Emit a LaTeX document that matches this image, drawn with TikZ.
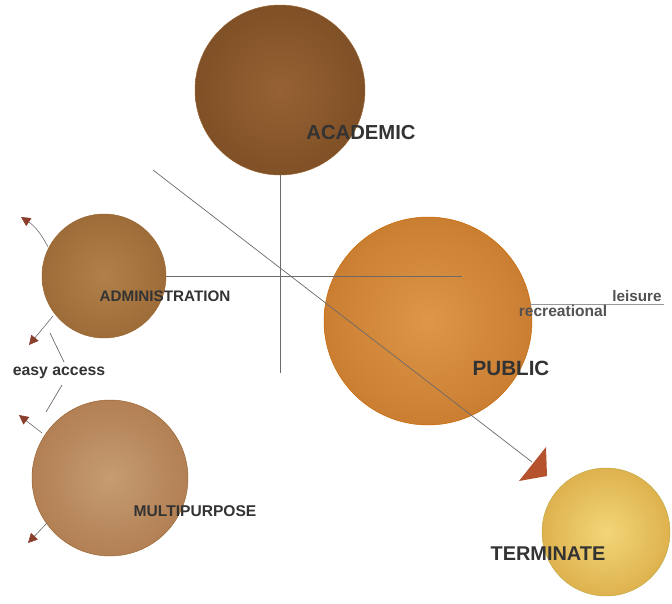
\documentclass[tikz,border=0pt]{standalone}
\usepackage{fontspec}
\setmainfont{Liberation Sans}
\usetikzlibrary{arrows.meta}
\definecolor{txt}{HTML}{333333}
\definecolor{lin}{HTML}{6A6A6A}
\definecolor{tip}{HTML}{8A3F2C}
\definecolor{bigtip}{HTML}{B5532F}
\tikzset{
  ball/.style={circle, inner sep=0pt, draw=#1!80!black, line width=0.4pt},
  lbl/.style={font=\bfseries, text=txt, inner sep=0pt},
  conn/.style={draw=lin, line width=0.6pt},
  small/.style={draw=lin, line width=0.5pt, -{Triangle[length=8pt,width=8pt,color=tip]}},
}
\begin{document}
\begin{tikzpicture}[x=0.03cm, y=-0.03cm]
\useasboundingbox (0,0) rectangle (672,603);
% circles
\node[ball=brown, minimum size=170*0.03cm, inner color={rgb,255:red,150;green,98;blue,52}, outer color={rgb,255:red,128;green,80;blue,38}] (acad) at (280,90) {};
\node[ball=brown, minimum size=124*0.03cm, inner color={rgb,255:red,176;green,128;blue,74}, outer color={rgb,255:red,158;green,108;blue,56}] (admin) at (104,276) {};
\node[ball=orange, minimum size=208*0.03cm, inner color={rgb,255:red,222;green,150;blue,72}, outer color={rgb,255:red,202;green,126;blue,50}] (pub) at (428,321) {};
\node[ball=brown, minimum size=156*0.03cm, inner color={rgb,255:red,198;green,156;blue,114}, outer color={rgb,255:red,178;green,128;blue,84}] (multi) at (110,478) {};
\node[ball=yellow!60!brown, minimum size=128*0.03cm, inner color={rgb,255:red,242;green,214;blue,120}, outer color={rgb,255:red,222;green,178;blue,78}] (term) at (606,532) {};
% coordinates
\coordinate (vbot) at (280,373);
\coordinate (hend) at (462,276);
\coordinate (dstart) at (153,170);
\coordinate (dend) at (532,462);
\coordinate (ls) at (530,304);
\coordinate (le) at (664,304);
% connectors
\draw[conn] (acad.south) -- (vbot);
\draw[conn] (admin.east) -- (hend);
\draw[conn] (dstart) -- (dend);
\fill[bigtip] (519,481) -- (546,447) -- (547,476) -- cycle;
\draw[draw=lin!70, line width=0.8pt] (ls) -- (le);
% labels
\node[lbl, font=\bfseries\fontsize{17.3}{20}\selectfont] (tacad) at (361,133) {ACADEMIC};
\node[lbl, font=\bfseries\fontsize{13}{15}\selectfont] (tadmin) at (165,296) {ADMINISTRATION};
\node[lbl, font=\bfseries\fontsize{17.6}{20}\selectfont] (tpub) at (511,368) {PUBLIC};
\node[lbl, font=\bfseries\fontsize{13.3}{15}\selectfont] (tmulti) at (195,511) {MULTIPURPOSE};
\node[lbl, font=\bfseries\fontsize{17}{20}\selectfont] (tterm) at (548,554) {TERMINATE};
\node[lbl, font=\bfseries\fontsize{13.5}{15}\selectfont] (easy) at (59,373) {easy access};
\node[lbl, text=txt!85, font=\bfseries\fontsize{13}{15}\selectfont] (leis) at (637,296) {leisure};
\node[lbl, text=txt!85, font=\bfseries\fontsize{13.3}{15}\selectfont] (recr) at (563,311) {recreational};
% easy access lines
\coordinate (e1a) at (50,333); \coordinate (e1b) at (64,362);
\coordinate (e2a) at (62,385); \coordinate (e2b) at (46,412);
\draw[conn] (e1a) -- (e1b);
\draw[conn] (e2a) -- (e2b);
% small arrows
\coordinate (a1) at (48,247); \coordinate (a1t) at (21,217);
\coordinate (a2) at (53,316); \coordinate (a2t) at (29,345);
\coordinate (a3) at (42,433); \coordinate (a3t) at (19,415);
\coordinate (a4) at (47,523); \coordinate (a4t) at (28,543);
\draw[small] (a1) to[bend right=15] (a1t);
\draw[small] (a2) -- (a2t);
\draw[small] (a3) -- (a3t);
\draw[small] (a4) -- (a4t);
\end{tikzpicture}
\end{document}
